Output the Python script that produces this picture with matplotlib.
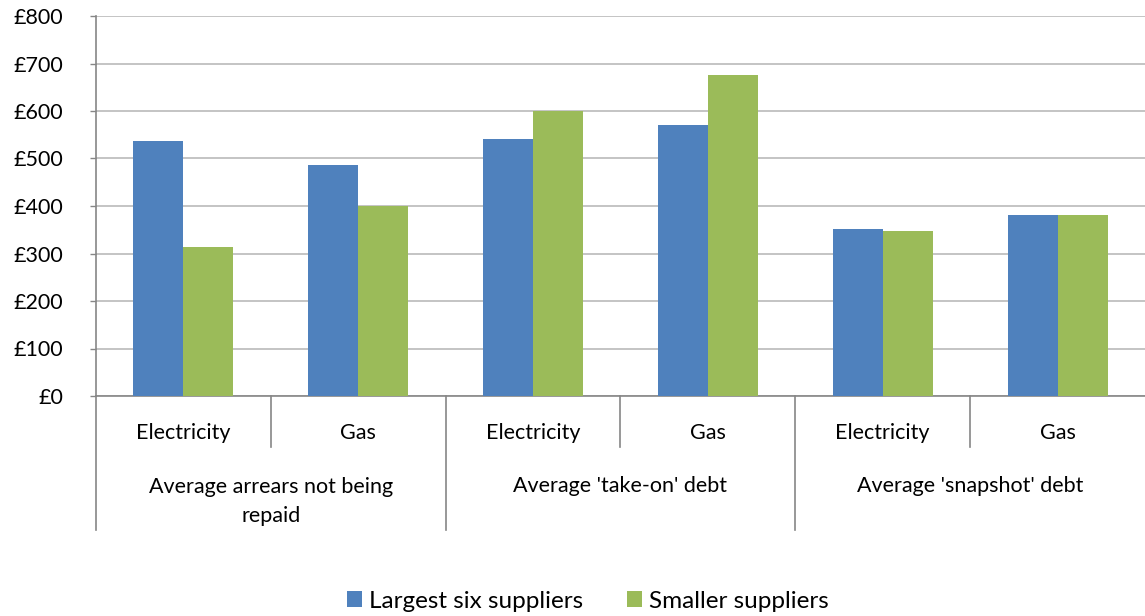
import matplotlib
matplotlib.use("Agg")
import matplotlib.pyplot as plt
import matplotlib.transforms as mtransforms
from matplotlib.lines import Line2D
from matplotlib.patches import Patch
import numpy as np

plt.rcParams['font.family'] = ['Lato', 'DejaVu Sans']

# Data
fuels = ["Electricity", "Gas", "Electricity", "Gas", "Electricity", "Gas"]
groups = ["Average arrears not being\nrepaid", "Average 'take-on' debt", "Average 'snapshot' debt"]
largest_six = [537, 486, 541, 571, 352, 381]
smaller = [314, 399, 600, 676, 347, 381]
series_names = ["Largest six suppliers", "Smaller suppliers"]
y_ticks = [0, 100, 200, 300, 400, 500, 600, 700, 800]
y_labels = ["£0", "£100", "£200", "£300", "£400", "£500", "£600", "£700", "£800"]

BLUE = "#4F81BD"
GREEN = "#9BBB59"
AXIS = "#868686"
GRID = "#BFBFBF"
FS = 15.5

fig = plt.figure(figsize=(11.45, 6.16), dpi=100)
ax = fig.add_axes([96 / 1145, 1 - 396 / 616, 1 - 96 / 1145, 380 / 616])

x = np.arange(len(fuels))
w = 0.286
ax.bar(x - w / 2, largest_six, width=w, color=BLUE, zorder=3, label=series_names[0])
ax.bar(x + w / 2, smaller, width=w, color=GREEN, zorder=3, label=series_names[1])

ax.set_xlim(-0.5, len(fuels) - 0.5)
ax.set_ylim(0, 800)
ax.set_yticks(y_ticks)
ax.set_yticklabels(y_labels, fontsize=FS)
ax.yaxis.grid(True, color=GRID, linewidth=1.3, zorder=0)
ax.set_axisbelow(True)
ax.tick_params(axis='y', length=4.5, color=AXIS, width=1, pad=19)
ax.set_xticks([])

for side in ["top", "right"]:
    ax.spines[side].set_visible(False)
ax.spines["left"].set_color(AXIS)
ax.spines["bottom"].set_color(AXIS)
ax.spines["left"].set_linewidth(1.2)
ax.spines["bottom"].set_linewidth(1.2)

# Two-level category axis below the plot
trans = mtransforms.blended_transform_factory(ax.transData, ax.transAxes)
short_end = -51 / 380
long_end = -134 / 380
for xs in [0.5, 2.5, 4.5]:
    ax.add_line(Line2D([xs, xs], [0, short_end], transform=trans, color=AXIS,
                       linewidth=1.2, clip_on=False))
for xs in [-0.5, 1.5, 3.5]:
    ax.add_line(Line2D([xs, xs], [0, long_end], transform=trans, color=AXIS,
                       linewidth=1.2, clip_on=False))

for xi, name in zip(x, fuels):
    ax.text(xi, -37 / 380, name, transform=trans, ha='center', va='center',
            fontsize=FS, color='black')

# group labels: first line sits at a fixed height, extra lines wrap below
line_gap = 31
for gi, name in enumerate(groups):
    n_lines = name.count("\n") + 1
    y_px = 90 + (n_lines - 1) * line_gap / 2
    ax.text(2 * gi + 0.5, -y_px / 380, name, transform=trans, ha='center', va='center',
            fontsize=FS, color='black', linespacing=1.6)

handles = [Patch(facecolor=BLUE, edgecolor='none'), Patch(facecolor=GREEN, edgecolor='none')]
fig.legend(handles, series_names, loc='center', bbox_to_anchor=(0.5135, 1 - 601 / 616),
           ncol=2, frameon=False, fontsize=17.5, handlelength=0.6, handleheight=0.6,
           handletextpad=0.3, columnspacing=1.8, borderpad=0, borderaxespad=0)

fig.savefig("out.png", dpi=100)
